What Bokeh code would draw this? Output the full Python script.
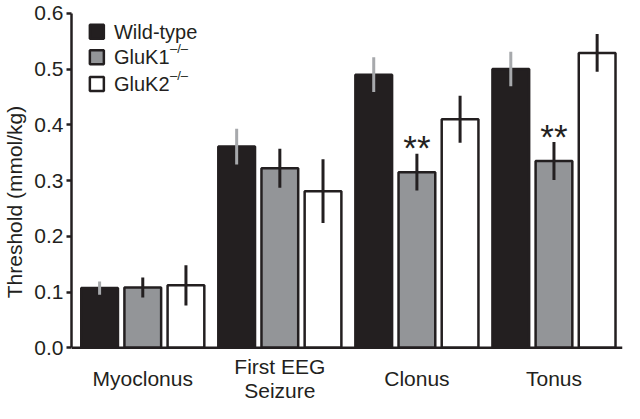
from bokeh.plotting import figure
from bokeh.models import Range1d, FixedTicker, PrintfTickFormatter, ColumnDataSource, Span
from bokeh.core.properties import value
from bokeh.embed import file_html
from bokeh.resources import INLINE

# ---------------- data ----------------
categories = ["Myoclonus", "First EEG\nSeizure", "Clonus", "Tonus"]
series_names = ["Wild-type", "GluK1", "GluK2"]
series_sup = ["", "\u2013/\u2013", "\u2013/\u2013"]
wild_type = [0.107, 0.361, 0.490, 0.500]
wild_type_err = [0.012, 0.032, 0.031, 0.031]
gluk1 = [0.108, 0.322, 0.315, 0.335]
gluk1_err = [0.018, 0.035, 0.033, 0.034]
gluk2 = [0.112, 0.281, 0.410, 0.529]
gluk2_err = [0.036, 0.057, 0.042, 0.034]
significance_gluk1 = ["", "", "**", "**"]
y_ticks = [0.0, 0.1, 0.2, 0.3, 0.4, 0.5, 0.6]

# ---------------- style ----------------
FONT = "Liberation Sans"
INK = "#231f20"
fills = ["#231f20", "#939598", "#ffffff"]
err_colors = ["#a7a9ac", INK, INK]
offsets = [-0.315, 0.0, 0.315]
BAR_W = 0.268

p = figure(width=624, height=403, output_backend="svg", toolbar_location=None,
           x_range=Range1d(-0.52, 3.50), y_range=Range1d(-0.1, 0.623),
           x_axis_location=None,
           min_border_top=0, min_border_right=2, min_border_left=2,
           min_border_bottom=0)
p.outline_line_color = None
p.xgrid.visible = False
p.ygrid.visible = False
p.background_fill_color = "white"
p.border_fill_color = "white"

values = [wild_type, gluk1, gluk2]
errs = [wild_type_err, gluk1_err, gluk2_err]
for s in range(3):
    xs = [i + offsets[s] for i in range(len(categories))]
    src = ColumnDataSource(dict(x=xs, top=values[s],
                                lo=[v - e for v, e in zip(values[s], errs[s])],
                                hi=[v + e for v, e in zip(values[s], errs[s])]))
    p.vbar(x="x", top="top", width=BAR_W, source=src, fill_color=fills[s],
           line_color=INK, line_width=2.5)
    p.segment(x0="x", y0="lo", x1="x", y1="hi", source=src,
              line_color=err_colors[s], line_width=3)

# x axis baseline at zero
p.add_layout(Span(location=0, dimension="width", line_color=INK, line_width=2.5))

# significance stars above GluK1 bars
star_x = [i + offsets[1] for i, t in enumerate(significance_gluk1) if t]
star_y = [gluk1[i] + gluk1_err[i] for i, t in enumerate(significance_gluk1) if t]
star_t = [t for t in significance_gluk1 if t]
p.text(x=star_x, y=star_y, text=star_t, text_align="center",
       text_baseline="alphabetic", text_font=value(FONT),
       text_font_size="35px", text_color=INK, y_offset=-6)

# manual legend
leg_x = -0.335
leg_tx = -0.21
leg_y = [0.567, 0.521, 0.473]
p.scatter(x=[leg_x] * 3, y=leg_y, marker="square", size=14,
          fill_color=fills, line_color=INK, line_width=2.5)
p.text(x=[leg_tx] * 3, y=leg_y, text=series_names, text_align="left",
       text_baseline="middle", text_font=value(FONT), text_font_size="20px",
       text_color=INK)
p.text(x=[leg_tx] * 2, y=leg_y[1:], text=series_sup[1:], text_align="left",
       text_baseline="middle", text_font=value(FONT), text_font_size="13px",
       text_color=INK, x_offset=56, y_offset=-9)

# category labels under the baseline, vertically centred like the reference
LBL_Y = -0.055
LINE_DY = 0.043
cx, cy, ct = [], [], []
for i, cat in enumerate(categories):
    lines = cat.split("\n")
    n = len(lines)
    for k, ln in enumerate(lines):
        cx.append(i)
        cy.append(LBL_Y + (n - 1) / 2 * LINE_DY - k * LINE_DY)
        ct.append(ln)
p.text(x=cx, y=cy, text=ct, text_align="center", text_baseline="middle",
       text_font=value(FONT), text_font_size="21px", text_color=INK)

# y axis
p.yaxis.bounds = (0, 0.6)
p.yaxis.ticker = FixedTicker(ticks=y_ticks)
p.yaxis.formatter = PrintfTickFormatter(format="%.1f")
p.yaxis.axis_label = "Threshold (mmol/kg)"
p.yaxis.axis_label_text_font = FONT
p.yaxis.axis_label_text_font_style = "normal"
p.yaxis.axis_label_text_font_size = "21px"
p.yaxis.axis_label_text_color = INK
p.yaxis.axis_label_standoff = 5
p.yaxis.major_label_text_font = FONT
p.yaxis.major_label_text_font_size = "21px"
p.yaxis.major_label_text_color = INK
p.yaxis.major_label_standoff = 3
p.yaxis.major_tick_out = 5
p.yaxis.major_tick_in = 0
p.yaxis.minor_tick_line_color = None
p.yaxis.major_tick_line_width = 2.5
p.yaxis.major_tick_line_color = INK
p.yaxis.axis_line_width = 2.5
p.yaxis.axis_line_color = INK

open("out.html", "w").write(file_html(p, INLINE))
